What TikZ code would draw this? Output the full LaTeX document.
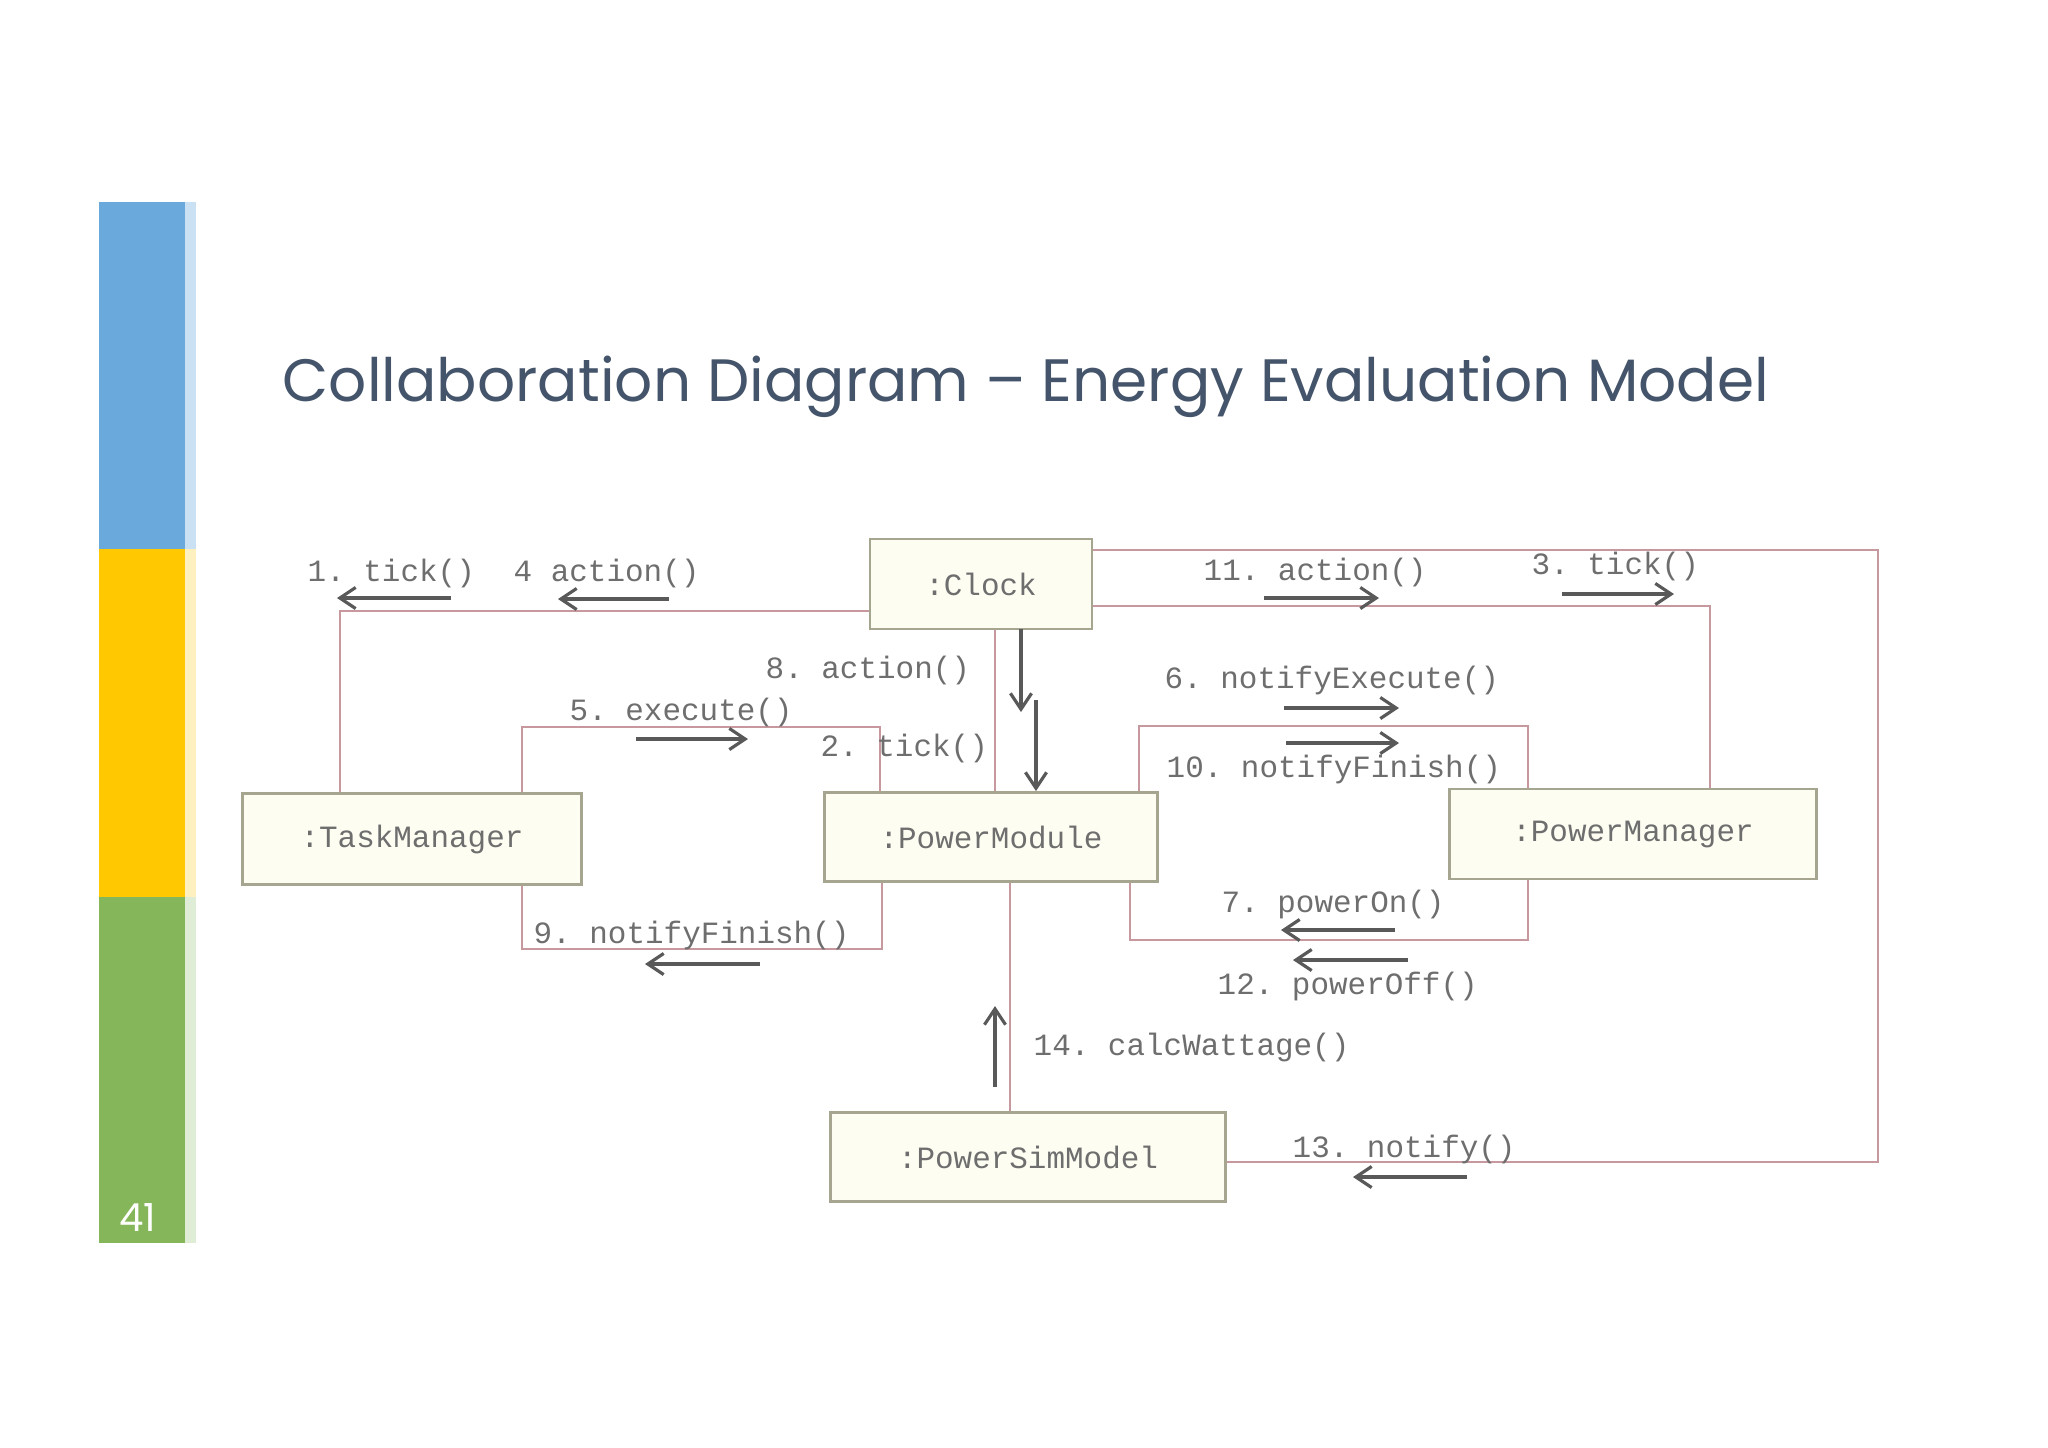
\documentclass[tikz,border=0pt]{standalone}
\usepackage{fontspec}
\usepackage[dvipsnames,svgnames,x11names]{xcolor}
\usepackage{tikz}
\usetikzlibrary{calc, positioning}
\usetikzlibrary{arrows, arrows.meta}
\newfontfamily\titlefont{Poppins}
\newfontfamily\umlfont{Liberation Mono}
\frenchspacing

\definecolor{barBlue}{HTML}{69A9DC}
\definecolor{barYellow}{HTML}{FFC800}
\definecolor{barGreen}{HTML}{85B65A}
\definecolor{titleSlate}{HTML}{44546A}
\definecolor{linkPink}{HTML}{C8989F}
\definecolor{boxEdge}{HTML}{A6A690}
\definecolor{boxFill}{HTML}{FDFDF2}
\definecolor{umlText}{HTML}{6E6E6E}

\tikzset{
  obj/.style={draw=boxEdge, fill=boxFill, line width=0.7pt, inner sep=0pt,
    font=\umlfont\fontsize{8.8}{10}\selectfont, text=umlText},
  link/.style={draw=linkPink, line width=0.8pt},
  msg/.style={draw=black!65, line width=0.9pt,
    -{Straight Barb[length=4.5pt,width=6pt]}},
  lbl/.style={anchor=west, inner sep=0pt,
    font=\umlfont\fontsize{8.8}{10}\selectfont, text=umlText},
}

\begin{document}
\begin{tikzpicture}[x=0.01cm, y=-0.01cm]
    \useasboundingbox (0,0) rectangle (2048,1447);
    \fill[white] (0,0) rectangle (2048,1447);

    % side bar
    \fill[barBlue] (99,202) rectangle (185,549);
    \fill[barYellow] (99,549) rectangle (185,897);
    \fill[barGreen] (99,897) rectangle (185,1243);
    \fill[barBlue!35] (185,202) rectangle (196,549);
    \fill[barYellow!25] (185,549) rectangle (196,897);
    \fill[barGreen!25] (185,897) rectangle (196,1243);
    \node[text=white, font=\titlefont\fontsize{11}{12}\selectfont] (pageno) at (138,1217) {41};

    \node[anchor=west, inner sep=0pt, text=titleSlate,
      font=\titlefont\fontsize{17}{20}\selectfont] (title) at (282,387)
      {Collaboration Diagram – Energy Evaluation Model};

    % objects
    \node[obj, minimum width=2.22cm, minimum height=0.90cm] (clock) at (981,584) {:Clock};
    \node[obj, minimum width=3.39cm, minimum height=0.91cm] (taskmgr) at (412,839) {:TaskManager};
    \node[obj, minimum width=3.33cm, minimum height=0.89cm] (powermod) at (991,837) {:PowerModule};
    \node[obj, minimum width=3.67cm, minimum height=0.90cm] (powermgr) at (1633,834) {:PowerManager};
    \node[obj, minimum width=3.95cm, minimum height=0.89cm] (powersim) at (1028,1157) {:PowerSimModel};

    % links
    \draw[link] (clock.west |- 0,611) -| (taskmgr.north -| 340,0);
    \draw[link] (clock.east |- 0,606) -| (powermgr.north -| 1710,0);
    \draw[link] (clock.east |- 0,550) -- (1878,550) |- (powersim.east |- 0,1162);
    \draw[link] (clock.south -| 995,0) -- (powermod.north -| 995,0);
    \draw[link] (taskmgr.north -| 522,0) |- (880,727) -- (powermod.north -| 880,0);
    \draw[link] (taskmgr.south -| 522,0) |- (882,949) -- (powermod.south -| 882,0);
    \draw[link] (powermod.north -| 1139,0) |- (1528,726) -- (powermgr.north -| 1528,0);
    \draw[link] (powermod.south -| 1130,0) |- (1528,940) -- (powermgr.south -| 1528,0);
    \draw[link] (powermod.south -| 1010,0) -- (powersim.north -| 1010,0);

    % messages
    \node[lbl] (m1) at (307,573) {1. tick()};
    \node[lbl] (m4) at (513,573) {4 action()};
    \node[lbl] (m11) at (1203,572) {11. action()};
    \node[lbl] (m3) at (1531,566) {3. tick()};
    \node[lbl] (m8) at (765,670) {8. action()};
    \node[lbl] (m2) at (820,748) {2. tick()};
    \node[lbl] (m5) at (569,712) {5. execute()};
    \node[lbl] (m9) at (533,935) {9. notifyFinish()};
    \node[lbl] (m6) at (1164,680) {6. notifyExecute()};
    \node[lbl] (m10) at (1166,769) {10. notifyFinish()};
    \node[lbl] (m7) at (1221,904) {7. powerOn()};
    \node[lbl] (m12) at (1217,986) {12. powerOff()};
    \node[lbl] (m14) at (1033,1047) {14. calcWattage()};
    \node[lbl] (m13) at (1292,1149) {13. notify()};

    \draw[msg] (451,598) -- (337,598);
    \draw[msg] (669,599) -- (558,599);
    \draw[msg] (1264,598) -- (1379,598);
    \draw[msg] (1562,594) -- (1674,594);
    \draw[msg] (1021,629) -- (1021,712);
    \draw[msg] (1036,700) -- (1036,791);
    \draw[msg] (636,739) -- (748,739);
    \draw[msg] (760,964) -- (645,964);
    \draw[msg] (1284,708) -- (1399,708);
    \draw[msg] (1286,743) -- (1399,743);
    \draw[msg] (1395,930) -- (1281,930);
    \draw[msg] (1408,960) -- (1293,960);
    \draw[msg] (995,1087) -- (995,1006);
    \draw[msg] (1467,1177) -- (1353,1177);
\end{tikzpicture}
\end{document}
